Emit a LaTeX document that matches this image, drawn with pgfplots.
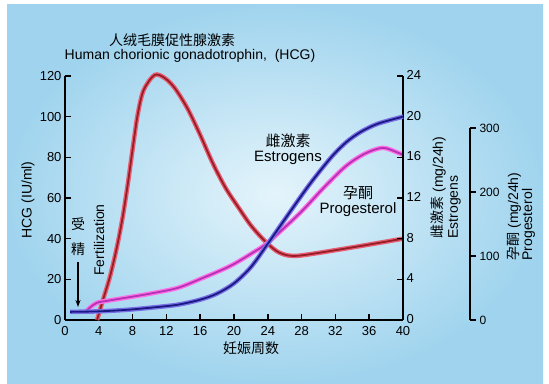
\documentclass[border=0pt]{standalone}
\usepackage{pgfplots}
\pgfplotsset{compat=1.18}
\usepackage{pgfplotstable}
\usetikzlibrary{arrows.meta}
\usepackage{fontspec}
\setmainfont{Liberation Sans}
\newfontfamily\cjk{Noto Sans CJK SC}
\definecolor{hcgcore}{RGB}{150,30,40}
\definecolor{hcgglow}{RGB}{232,95,115}
\definecolor{estcore}{RGB}{25,25,130}
\definecolor{estglow}{RGB}{120,110,230}
\definecolor{procore}{RGB}{180,50,180}
\definecolor{proglow}{RGB}{255,110,230}
\definecolor{bgedge}{RGB}{160,212,238}
\definecolor{bgmid}{RGB}{228,244,251}

\pgfplotstableread{
x y
3.8 0
4.5 10
5.3 21
6.1 35
6.8 50
7.4 66
8.0 84
8.6 101
9.3 113
10.6 120.5
11.8 119
13 114
14.5 104
16 91
17.5 77
19 65
20.5 55.5
22 46.5
23.5 39.5
25 34
26.3 31.8
27.6 31.6
30 33
35 36.4
40 40
}\hcg

\pgfplotstableread{
x y
0.6 0.8
4 0.85
7.3 1.0
10 1.2
13.3 1.5
16 2.0
18 2.6
20 3.6
22 5.2
24 7.5
26.6 10.6
29 13.4
31.5 16.0
33.3 17.5
35 18.5
37 19.3
40 20
}\est

\pgfplotstableread{
x y
2.4 12
3 20
3.8 27
5 30
7.3 35
10 41
13.3 50
16 64
19.5 84
22.2 105
24 121
27.8 167
30.5 205
33.2 240
35.5 260
37.6 269
39.3 262
40 258
}\prog

\begin{document}
\begin{tikzpicture}[x=1pt,y=1pt]
\useasboundingbox (0,0) rectangle (549,383);
\fill[white] (0,0) rectangle (549,383);
\shade[inner color=bgmid, outer color=bgedge] (7,0) rectangle (543,378);

\pgfplotsset{
  every axis/.append style={
    scale only axis, clip=false,
    axis line style={line width=1.8pt, black, -},
    major tick style={line width=1.6pt, black},
    major tick length=6pt,
    tick label style={font=\fontsize{13}{15}\selectfont, black},
    /pgf/number format/assume math mode=true,
  }
}

% HCG axis
\begin{axis}[at={(65pt,63pt)}, anchor=south west, width=338pt, height=244pt,
  xmin=0, xmax=40, ymin=0, ymax=120,
  axis x line*=bottom, axis y line*=left, tick align=inside,
  xtick={0,4,...,40}, ytick={0,20,...,120},
  xticklabel style={yshift=-3pt}]
\addplot[hcgglow, line width=4.5pt, smooth, tension=0.5] table[x=x,y=y] {\hcg};
\addplot[hcgcore, line width=1.8pt, smooth, tension=0.5] table[x=x,y=y] {\hcg};
\end{axis}

% Progesterone axis
\begin{axis}[at={(65pt,63pt)}, anchor=south west, width=405pt, height=192pt,
  xmin=0, xmax=47.93, ymin=0, ymax=300,
  axis x line=none, axis y line*=right, tick align=outside,
  ytick={0,100,200,300},
  tick label style={font=\fontsize{12}{14}\selectfont}]
\addplot[proglow, line width=4.5pt, smooth, tension=0.5] table[x=x,y=y] {\prog};
\addplot[procore, line width=1.8pt, smooth, tension=0.5] table[x=x,y=y] {\prog};
\end{axis}

% Estrogen axis
\begin{axis}[at={(65pt,63pt)}, anchor=south west, width=338pt, height=244pt,
  xmin=0, xmax=40, ymin=0, ymax=24,
  axis x line=none, axis y line*=right, tick align=inside,
  ytick={0,4,...,24}, yticklabel style={yshift=1pt}]
\addplot[estglow, line width=4.5pt, smooth, tension=0.5] table[x=x,y=y] {\est};
\addplot[estcore, line width=1.8pt, smooth, tension=0.5] table[x=x,y=y] {\est};
\end{axis}

% titles and labels
\node[font=\cjk\fontsize{14}{16}\selectfont] at (172,343) {人绒毛膜促性腺激素};
\node[font=\fontsize{14}{16}\selectfont] at (190,327) {Human chorionic gonadotrophin,\ \ (HCG)};
\node[rotate=90, font=\fontsize{14}{16}\selectfont] at (28,183) {HCG (IU/ml)};
\node[align=center, font=\cjk\fontsize{14}{25}\selectfont] at (78,146) {受\\精};
\draw[-{Stealth[length=7pt,width=5pt]}, line width=1.2pt] (78,121) -- (78,76);
\node[rotate=90, font=\fontsize{14}{16}\selectfont] at (99,143) {Fertilization};
\node[align=center, font=\fontsize{15}{15}\selectfont] at (288,234) {{\cjk 雌激素}\\Estrogens};
\node[align=center, font=\fontsize{15}{15}\selectfont] at (358,181) {{\cjk 孕酮}\\Progesterol};
\node[font=\cjk\fontsize{14}{16}\selectfont] at (251,35) {妊娠周数};
\node[rotate=90, align=left, anchor=west, font=\fontsize{14}{15}\selectfont] at (446,141) {{\cjk 雌激素} (mg/24h)\\Estrogens};
\node[rotate=90, align=left, anchor=west, font=\fontsize{14}{13}\selectfont] at (521,119) {{\cjk 孕酮} (mg/24h)\\Progesterol};
\end{tikzpicture}
\end{document}
